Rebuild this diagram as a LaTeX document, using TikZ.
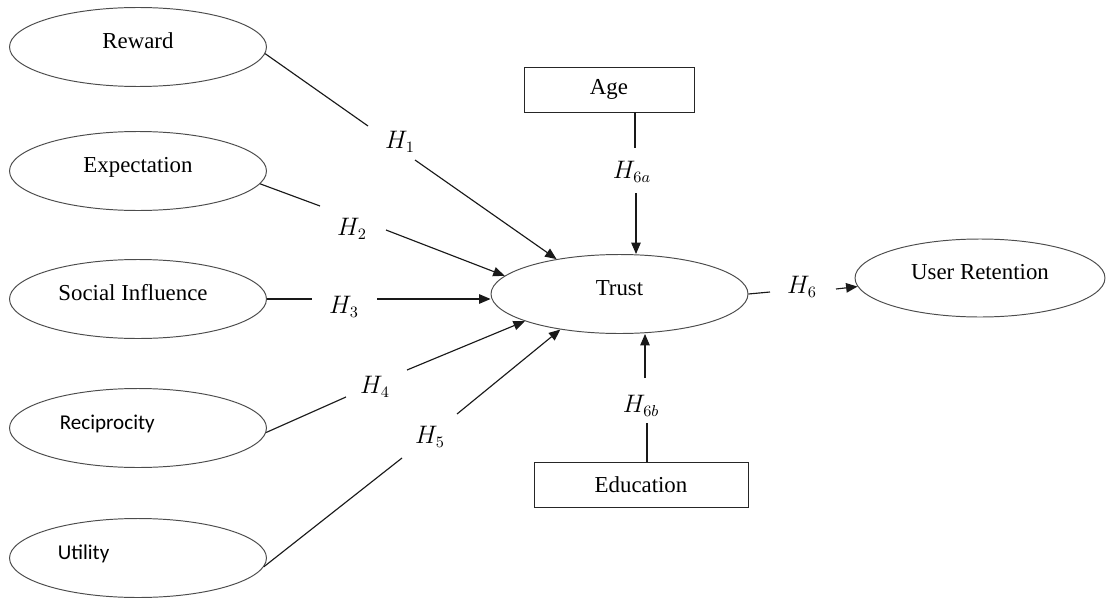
\documentclass[tikz,border=0pt]{standalone}
\usepackage{fontspec}
\setmainfont{Liberation Serif}
\newfontfamily\calib{Carlito}
\usetikzlibrary{arrows.meta,shapes.geometric}
\begin{document}
\begin{tikzpicture}[x=0.02cm,y=-0.02cm,
  ell/.style={ellipse, draw=black!70, line width=0.55pt, minimum width=5.14cm,
    minimum height=1.58cm, inner sep=0pt, font=\fontsize{13}{15}\selectfont,
    text height=9pt, text depth=7pt},
  sell/.style={ell, font=\calib\fontsize{12}{14}\selectfont},
  vbox/.style={rectangle, draw=black!85, line width=0.55pt, minimum height=0.9cm,
    inner sep=0pt, font=\fontsize{13}{15}\selectfont},
  hl/.style={inner sep=0pt, font=\fontsize{13.5}{15}\selectfont},
  ln/.style={draw=black!90, line width=0.65pt},
  arr/.style={ln, -{Triangle[length=6.5pt,width=5.4pt]}}]
\useasboundingbox (0,0) rectangle (1108,598);
% constructs
\node[ell] (reward) at (138,47) {Reward};
\node[ell] (expect) at (138,171) {Expectation};
\node[ell] (social) at (138,299) {Social Influence\hspace*{5.7pt}};
\node[sell] (recip) at (138,428) {Reciprocity\hspace*{35pt}};
\node[sell] (util) at (138,558) {Utility\hspace*{62pt}};
\node[ell] (trust) at (619.5,294) {Trust};
\node[ell, minimum width=5.0cm, minimum height=1.56cm] (ur) at (980,278) {User Retention};
\node[vbox, minimum width=3.4cm] (age) at (609,89.5) {Age};
\node[vbox, minimum width=4.28cm] (edu) at (641,484.5) {Education};
% hypothesis labels
\node[hl] (h1) at (400,142) {$H_1$};
\node[hl] (h2) at (352,229) {$H_2$};
\node[hl] (h3) at (344,307) {$H_3$};
\node[hl] (h4) at (375,387) {$H_4$};
\node[hl] (h5) at (430,437) {$H_5$};
\node[hl] (h6a) at (632,172) {$H_{6a}$};
\node[hl] (h6b) at (641,406) {$H_{6b}$};
\node[hl] (h6) at (802,287) {$H_6$};
% gap ends
\coordinate (a1) at (368,126); \coordinate (b1) at (415,160);
\coordinate (a2) at (320,206); \coordinate (b2) at (386,230);
\coordinate (a3) at (312,299); \coordinate (b3) at (377,299);
\coordinate (a4) at (346,397); \coordinate (b4) at (407,370);
\coordinate (a5) at (402,458); \coordinate (b5) at (457,414);
\coordinate (a6a) at (635,148); \coordinate (b6a) at (636,193);
\coordinate (a6b) at (647,423); \coordinate (b6b) at (645,378);
\coordinate (a6) at (770,292); \coordinate (b6) at (836,289);
% connectors
\draw[ln] (reward.-3) -- (a1);
\draw[arr] (b1) -- (trust.151);
\draw[ln] (expect.-6) -- (a2);
\draw[arr] (b2) -- (trust.171);
\draw[ln] (social.east |- a3) -- (a3);
\draw[arr] (b3) -- (b3 -| trust.west);
\draw[ln] (recip.-2) -- (a4);
\draw[arr] (b4) -- (trust.196);
\draw[ln] (util.-4) -- (a5);
\draw[arr] (b5) -- (trust.211);
\draw[ln] (a6a |- age.south) -- (a6a);
\draw[arr] (b6a) -- (b6a |- trust.north);
\draw[ln] (a6b |- edu.north) -- (a6b);
\draw[arr] (b6b) -- (b6b |- trust.south);
\draw[ln] (trust.east) -- (a6);
\draw[arr] (b6) -- (ur.184);
\end{tikzpicture}
\end{document}
